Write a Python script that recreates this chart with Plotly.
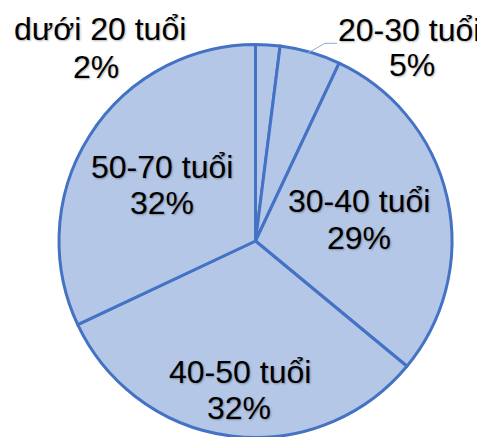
import plotly.graph_objects as go

# Data
labels = ["dưới 20 tuổi", "20-30 tuổi", "30-40 tuổi", "40-50 tuổi", "50-70 tuổi"]
values = [2, 5, 29, 32, 32]

# Layout helpers: pixel centres of (label line, percent line) for each slice
W, H = 485, 437
OFF = 8  # browser default body margin
label_line_px = [(100, 28), (408.5, 29), (359, 200), (239.5, 371), (161.7, 165.5)]
pct_line_px = [(96, 65.5), (412, 64), (359, 237), (238.5, 407), (161.5, 202)]

total = sum(values)
pcts = [round(v / total * 100) for v in values]


def px(x, y):
    return (x - OFF) / W, 1 - (y - OFF) / H


cx, cy, R = 255.5, 241, 196.5
x0, _ = px(cx - R, 0)
x1, _ = px(cx + R, 0)
_, y1 = px(0, cy - R)
_, y0 = px(0, cy + R)

fig = go.Figure(go.Pie(
    labels=labels,
    values=values,
    sort=False,
    direction="clockwise",
    rotation=0,
    textinfo="none",
    hoverinfo="label+percent",
    marker=dict(colors=["#B4C7E7"] * len(values),
                line=dict(color="#4472C4", width=3)),
    domain=dict(x=[x0, x1], y=[y0, y1]),
    showlegend=False,
))

font = dict(family="Arial, Liberation Sans, Arimo, sans-serif", size=32,
            color="#000000", shadow="1px 1px 2px rgba(0,0,0,0.3)")
annotations = []
for lab, p, (lx, ly), (qx, qy) in zip(labels, pcts, label_line_px, pct_line_px):
    ax, ay = px(lx, ly + 1)
    annotations.append(dict(x=ax, y=ay, xref="paper", yref="paper", text=lab,
                            showarrow=False, xanchor="center", yanchor="middle", font=font))
    bx, by = px(qx, qy + 1)
    annotations.append(dict(x=bx, y=by, xref="paper", yref="paper", text=f"{p}%",
                            showarrow=False, xanchor="center", yanchor="middle", font=font))

# leader line for the 20-30 label
pts = [px(307.3, 53.3), px(325, 43.3), px(337, 43.3)]
path = "M " + " L ".join(f"{a},{b}" for a, b in pts)
shapes = [dict(type="path", xref="paper", yref="paper", path=path,
               line=dict(color="#8FAADC", width=1))]

fig.update_layout(
    width=W, height=H,
    margin=dict(l=0, r=0, t=0, b=0),
    paper_bgcolor="white",
    plot_bgcolor="white",
    annotations=annotations,
    shapes=shapes,
)

fig.write_html("out.html")
